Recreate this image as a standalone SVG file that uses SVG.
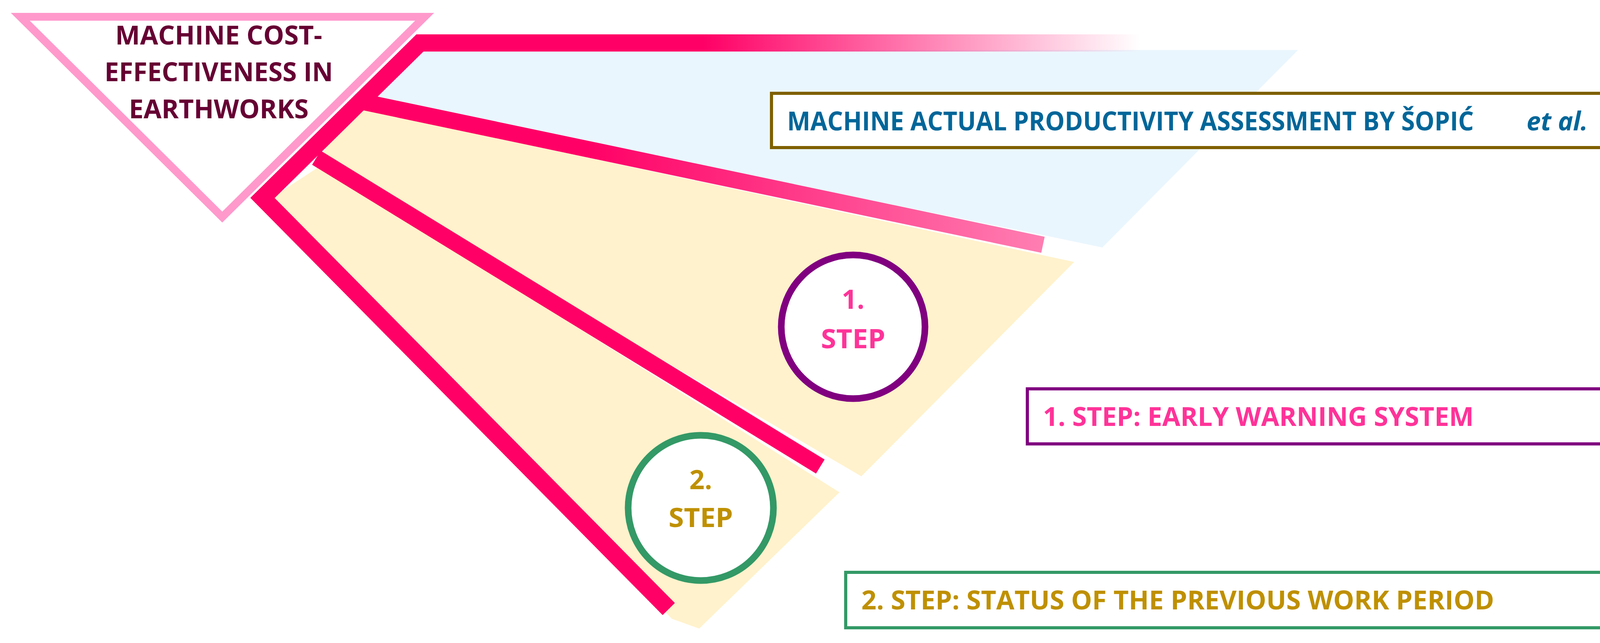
<svg xmlns="http://www.w3.org/2000/svg" width="4415" height="1647" viewBox="0 0 4415 1647">
<style>
.t{font-family:"Open Sans","Noto Sans","Liberation Sans",sans-serif;font-weight:bold}
.box{fill:#fff;stroke-width:8}
</style>
<defs>
<linearGradient id="g1" gradientUnits="userSpaceOnUse" x1="1800" y1="0" x2="2920" y2="0">
<stop offset="0" stop-color="#FF0066"/><stop offset="1" stop-color="#FF0066" stop-opacity="0"/>
</linearGradient>
<linearGradient id="g2" gradientUnits="userSpaceOnUse" x1="1500" y1="0" x2="2690" y2="0">
<stop offset="0" stop-color="#FF0066"/><stop offset="1" stop-color="#FF80B3"/>
</linearGradient>
</defs>
<rect width="4415" height="1647" fill="#fff"/>
<g id="bands">
<polygon points="1090,128 3323,128 2822,634 2660,600 900,245" fill="#EAF6FD"/>
<polygon points="880,270 2750,671 2205,1220 820,410" fill="#FFF2CC"/>
<polygon points="690,510 820,425 2149,1261 1790,1610 1720,1585" fill="#FFF2CC"/>
</g>
<g id="connectors">
<polyline points="2930,110 1075,110 672,507 1712,1560" fill="none" stroke="url(#g1)" stroke-width="44" stroke-linejoin="miter"/>
<line x1="915" y1="258" x2="2670" y2="627" stroke="url(#g2)" stroke-width="42"/>
<line x1="810" y1="404" x2="2100" y2="1195" stroke="#FF0066" stroke-width="42"/>
</g>
<g id="title">
<polygon points="52,43 1087,43 569,556" fill="#fff" stroke="#FF99CC" stroke-width="20"/>
<text class="t" x="560" y="114" font-size="66" fill="#660033" text-anchor="middle" textLength="530" lengthAdjust="spacingAndGlyphs">MACHINE COST-</text>
<text class="t" x="560" y="208" font-size="66" fill="#660033" text-anchor="middle" textLength="585" lengthAdjust="spacingAndGlyphs">EFFECTIVENESS IN</text>
<text class="t" x="560" y="303" font-size="66" fill="#660033" text-anchor="middle" textLength="460" lengthAdjust="spacingAndGlyphs">EARTHWORKS</text>
</g>
<g id="step1">
<circle cx="2184" cy="837" r="184" fill="#fff" stroke="#800080" stroke-width="17"/>
<text class="t" x="2184" y="791" font-size="68" fill="#FF3399" text-anchor="middle">1.</text>
<text class="t" x="2184" y="892" font-size="68" fill="#FF3399" text-anchor="middle" textLength="165" lengthAdjust="spacingAndGlyphs">STEP</text>
</g>
<g id="step2">
<circle cx="1794" cy="1301" r="186" fill="#fff" stroke="#339966" stroke-width="17"/>
<text class="t" x="1794" y="1253" font-size="68" fill="#BF9000" text-anchor="middle">2.</text>
<text class="t" x="1794" y="1350" font-size="68" fill="#BF9000" text-anchor="middle" textLength="165" lengthAdjust="spacingAndGlyphs">STEP</text>
</g>
<g id="box-assess">
<rect class="box" x="1975" y="239" width="2412" height="139" stroke="#7F6000"/>
<text class="t" x="2015" y="334" font-size="66" fill="#006699" textLength="1758" lengthAdjust="spacingAndGlyphs">MACHINE ACTUAL PRODUCTIVITY ASSESSMENT BY ŠOPIĆ</text>
<text class="t" x="3908" y="334" font-size="66" fill="#006699" font-style="italic" textLength="157" lengthAdjust="spacingAndGlyphs">et al.</text>
<text class="t" x="4094" y="334" font-size="66" fill="#006699" textLength="212" lengthAdjust="spacingAndGlyphs">(2023)</text>
</g>
<g id="box-step1">
<rect class="box" x="2630" y="996" width="1757" height="141" stroke="#800080"/>
<text class="t" x="2670" y="1091" font-size="66" fill="#FF3399" textLength="1103" lengthAdjust="spacingAndGlyphs">1. STEP: EARLY WARNING SYSTEM</text>
</g>
<g id="box-step2">
<rect class="box" x="2165" y="1466" width="2222" height="142" stroke="#339966"/>
<text class="t" x="2205" y="1561" font-size="66" fill="#BF9000" textLength="1620" lengthAdjust="spacingAndGlyphs">2. STEP: STATUS OF THE PREVIOUS WORK PERIOD</text>
</g>
</svg>
